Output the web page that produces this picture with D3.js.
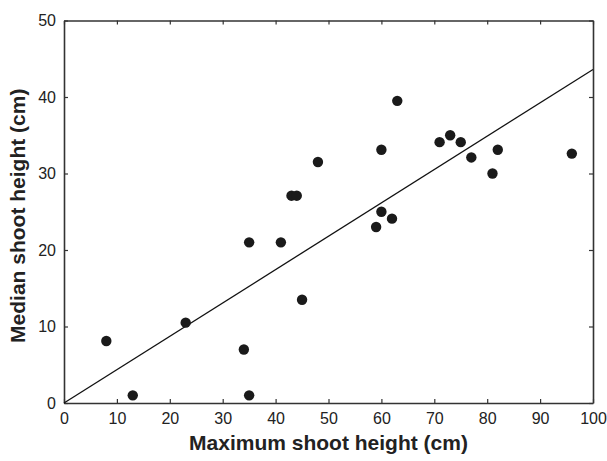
<!DOCTYPE html>
<html>
<head>
<meta charset="UTF-8">
<title>Shoot height</title>
<script src="https://cdn.jsdelivr.net/npm/d3@7/dist/d3.min.js"></script>
<style>
	body { margin: 0; background: #fff; }
	svg text { font-family: "Liberation Sans", Arial, sans-serif; }
</style>
</head>
<body>
	<div id="chart"></div>
	<script type="text/javascript">
		// maximum vs median shoot height (cm)
		var maxHeight = [8, 13, 23, 34, 35, 35, 41, 43, 44, 45, 48, 59, 60, 60, 62, 63, 71, 73, 75, 77, 81, 82, 96];
		var medHeight = [8.1, 1, 10.5, 7, 1, 21, 21, 27.1, 27.1, 13.5, 31.5, 23, 25, 33.1, 24.1, 39.5, 34.1, 35, 34.1, 32.1, 30, 33.1, 32.6];
		var xTicks = [0, 10, 20, 30, 40, 50, 60, 70, 80, 90, 100];
		var yTicks = [0, 10, 20, 30, 40, 50];
		var fitLine = [[0, 0], [100, 43.6]];

		var margin = { top : 20.5, right : 14, bottom : 58, left : 64 };
		var width = 607 - margin.left - margin.right;
		var height = 461 - margin.top - margin.bottom;

		var svg = d3.select("#chart").append("svg").attr("width", 607).attr("height", 461)
			.append("g").attr("transform", "translate(" + margin.left + "," + margin.top + ")");

		var x = d3.scaleLinear().domain([ 0, 100 ]).range([ 0, width ]);
		var y = d3.scaleLinear().domain([ 0, 50 ]).range([ height, 0 ]);

		var axisColor = "#333";

		// box frame with inward ticks on all sides
		var axBottom = svg.append("g").attr("transform", "translate(0," + height + ")")
			.call(d3.axisBottom(x).tickValues(xTicks).tickSizeInner(-4).tickSizeOuter(0).tickPadding(10));
		var axTop = svg.append("g")
			.call(d3.axisTop(x).tickValues(xTicks).tickSizeInner(-4).tickSizeOuter(0).tickFormat(""));
		var axLeft = svg.append("g")
			.call(d3.axisLeft(y).tickValues(yTicks).tickSizeInner(-4).tickSizeOuter(0).tickPadding(8));
		var axRight = svg.append("g").attr("transform", "translate(" + width + ",0)")
			.call(d3.axisRight(y).tickValues(yTicks).tickSizeInner(-4).tickSizeOuter(0).tickFormat(""));

		[axBottom, axTop, axLeft, axRight].forEach(function(g) {
			g.attr("font-family", null).attr("font-size", null);
			g.select(".domain").attr("stroke", axisColor).attr("stroke-width", 1.6);
			g.selectAll(".tick line").attr("stroke", axisColor).attr("stroke-width", 1.2);
			g.selectAll(".tick text").attr("fill", "#222").style("font-size", "16px");
		});

		// regression line
		svg.append("path").datum(fitLine).attr("fill", "none").attr("stroke", "#111").attr("stroke-width", 1.3)
			.attr("d", d3.line().x(function(d) { return x(d[0]); }).y(function(d) { return y(d[1]); }));

		// points
		svg.selectAll(".dot").data(maxHeight).enter().append("circle").attr("class", "dot")
			.attr("cx", function(d) { return x(d); })
			.attr("cy", function(d, i) { return y(medHeight[i]); })
			.attr("r", 5.2).attr("fill", "#1a1a1a");

		// axis titles
		svg.append("text").attr("x", width / 2).attr("y", height + 47).attr("text-anchor", "middle")
			.style("font-size", "21px").style("font-weight", "bold").attr("fill", "#222")
			.text("Maximum shoot height (cm)");
		svg.append("text").attr("transform", "translate(-39," + (height / 2 + 4) + ") rotate(-90)").attr("text-anchor", "middle")
			.style("font-size", "21px").style("font-weight", "bold").attr("fill", "#222")
			.text("Median shoot height (cm)");
	</script>
</body>
</html>
